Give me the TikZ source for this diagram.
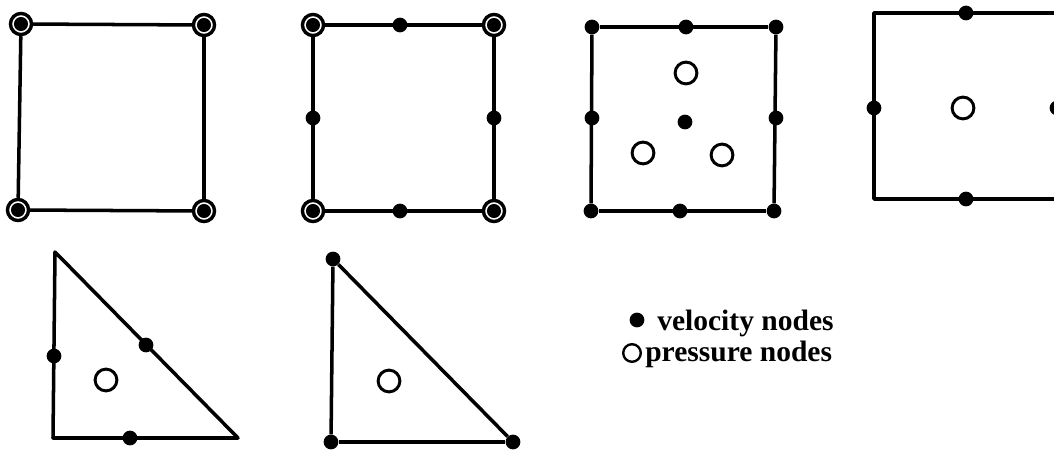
\documentclass[tikz,border=0pt]{standalone}
\usepackage{fontspec}
\setmainfont{Liberation Serif}
\usepackage{tikz}
\usetikzlibrary{positioning}
\tikzset{
  edge/.style ={line width=2.5pt, line join=round},
  vel/.style  ={circle, fill, minimum size=10.5pt, inner sep=0pt},
  pres/.style ={circle, draw, line width=2.1pt, minimum size=15.5pt, inner sep=0pt},
  both/.style ={circle, draw, fill=white, line width=2.4pt, minimum size=15pt, inner sep=0pt,
                path picture={\fill[black] (path picture bounding box.center) circle (5pt);}},
  legend/.style={font=\fontsize{21}{25}\selectfont\bfseries, inner sep=0pt},
}

\begin{document}
\begin{tikzpicture}[x=0.025cm, y=-0.025cm]
  \useasboundingbox (0,0) rectangle (1054,452);
  \clip (0,0) rectangle (1054,452);

  % --- bilinear square: corner nodes carry velocity and pressure -----------
  \node[both] (a1) at (21,24)   {};
  \node[both] (a2) at (204,25)  {};
  \node[both] (a3) at (204,211) {};
  \node[both] (a4) at (18,210)  {};
  \draw[edge] (a1) -- (a2);
  \draw[edge] (a2) -- (a3);
  \draw[edge] (a3) -- (a4);
  \draw[edge] (a4) -- (a1);

  % --- serendipity square ---------------------------------------------------
  \node[both] (b1) at (313,25)  {};
  \node[both] (b2) at (494,25)  {};
  \node[both] (b3) at (494,211) {};
  \node[both] (b4) at (313,211) {};
  \draw[edge] (b1) -- (b2);
  \draw[edge] (b2) -- (b3);
  \draw[edge] (b3) -- (b4);
  \draw[edge] (b4) -- (b1);
  \node[vel] (b12) at (400,25)  {};
  \node[vel] (b23) at (494,118) {};
  \node[vel] (b34) at (400,211) {};
  \node[vel] (b41) at (313,118) {};

  % --- biquadratic square, three interior pressures -------------------------
  \node[vel] (c1) at (592,27)  {};
  \node[vel] (c2) at (776,27)  {};
  \node[vel] (c3) at (774,211) {};
  \node[vel] (c4) at (591,211) {};
  \draw[edge] (c1) -- (c2);
  \draw[edge] (c2) -- (c3);
  \draw[edge] (c3) -- (c4);
  \draw[edge] (c4) -- (c1);
  \node[vel] (c12) at (686,27)  {};
  \node[vel] (c23) at (776,118) {};
  \node[vel] (c34) at (680,211) {};
  \node[vel] (c41) at (592,118) {};
  \node[vel] (cc)  at (685,122) {};
  \node[pres] (cp1) at (686,73)  {};
  \node[pres] (cp2) at (643,153) {};
  \node[pres] (cp3) at (722,155) {};

  % --- rotated (mid-side) square, runs off the right border ----------------
  \coordinate (d1) at (874,13);
  \coordinate (d2) at (1058,13);
  \coordinate (d3) at (1058,199);
  \coordinate (d4) at (874,199);
  \draw[edge] (d1) -- (d2) -- (d3) -- (d4) -- cycle;
  \node[vel] (d12) at (966,13)   {};
  \node[vel] (d23) at (1057,108) {};
  \node[vel] (d34) at (966,199)  {};
  \node[vel] (d41) at (874,108)  {};
  \node[pres] (dp) at (963,108)  {};

  % --- mid-side triangle ----------------------------------------------------
  \coordinate (e1) at (55,252);
  \coordinate (e2) at (53,438);
  \coordinate (e3) at (238,438);
  \draw[edge] (e1) -- (e2) -- (e3) -- cycle;
  \node[vel] (e12) at (54,356)  {};
  \node[vel] (e23) at (130,438) {};
  \node[vel] (e31) at (146,345) {};
  \node[pres] (ep) at (106,380) {};

  % --- linear triangle ------------------------------------------------------
  \node[vel] (f1) at (333,259) {};
  \node[vel] (f2) at (331,442) {};
  \node[vel] (f3) at (513,442) {};
  \draw[edge] (f1) -- (f2);
  \draw[edge] (f2) -- (f3);
  \draw[edge] (f3) -- (f1);
  \node[pres] (fp) at (389,381) {};

  % --- legend ----------------------------------------------------------------
  \node[vel] (kv) at (637,320) {};
  \node[pres, line width=1.7pt, minimum size=12.5pt] (kp) at (632,353) {};
  \node[legend, anchor=base west] (tv) at (657,331) {velocity nodes};
  \node[legend, anchor=base west] (tp) at (645,362) {pressure nodes};
\end{tikzpicture}
\end{document}
